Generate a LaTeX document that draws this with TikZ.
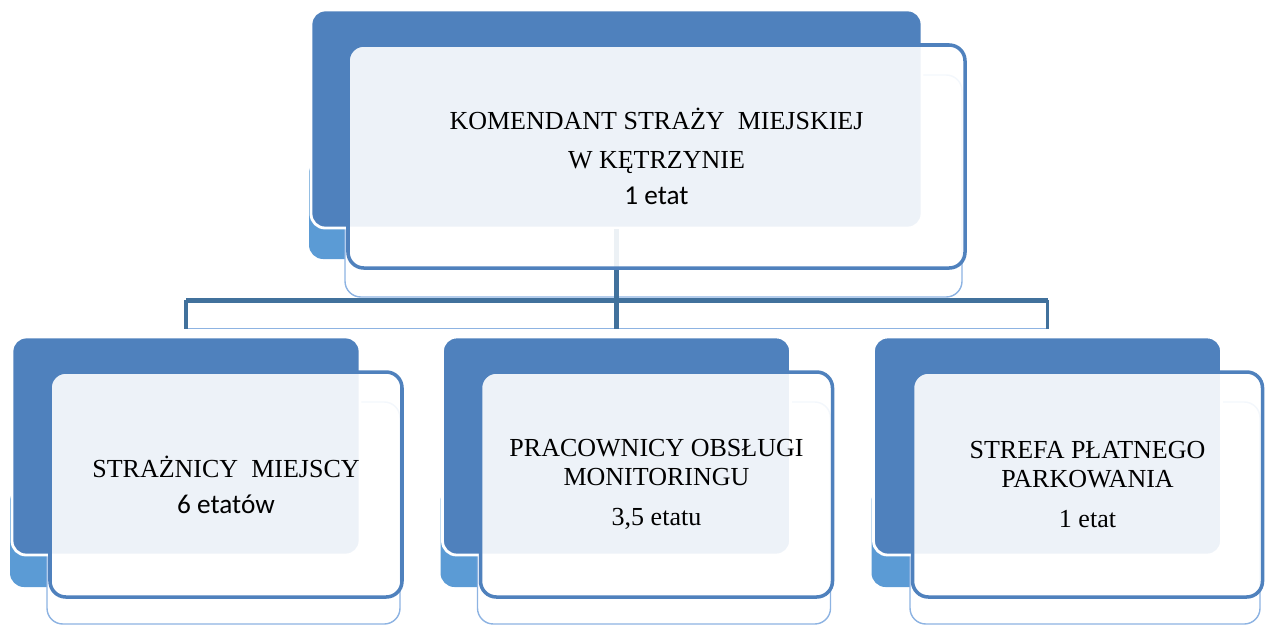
\documentclass[tikz,border=0pt]{standalone}
\usepackage{fontspec}
\setmainfont{Liberation Serif}
\newfontfamily\calibri{Carlito}
\usetikzlibrary{positioning,calc}
\definecolor{darkblue}{HTML}{4F81BD}
\definecolor{midblue}{HTML}{5B9BD5}
\definecolor{lineblue}{HTML}{41719C}
\definecolor{paleblue}{HTML}{8DB3E2}
\tikzset{
  % back layer: dark card with a white rim
  backbox/.style={rectangle, rounded corners=8pt, fill=darkblue,
  draw=white, line width=1.6pt, minimum height=4.36cm},
  % lighter card peeking out below the dark one
  stripbox/.style={rectangle, rounded corners=8pt, fill=midblue,
  minimum height=2cm},
  % faint outline under the front card
  ghostbox/.style={rectangle, rounded corners=9pt, fill=white,
  draw=paleblue, line width=0.8pt, minimum height=4.44cm},
  % front card holding the text
  frontbox/.style={rectangle, rounded corners=9pt, fill=white,
  fill opacity=0.9, text opacity=1, draw=darkblue, line width=2pt,
  minimum height=4.46cm, align=center,
  font=\fontsize{14.8}{16.5}\selectfont},
  trunk/.style={draw=lineblue, line width=2.4pt},
  leg/.style={draw=lineblue, line width=2pt},
  bar/.style={draw=lineblue, line width=2.6pt},
  sill/.style={draw=paleblue, line width=0.6pt}}

\begin{document}
\begin{tikzpicture}
\useasboundingbox (0,0) rectangle (25.32,-12.52);

%% top card
\coordinate (kom_pos) at (12.33,-2.38);
\node (kom_strip) [stripbox, minimum width=12.22cm] at ($(kom_pos)+(-0.04,-1.80)$) {};
\node (kom_ghost) [ghostbox, minimum width=12.34cm] at ($(kom_pos)+(0.74,-1.34)$) {};
\node (kom_back) [backbox, minimum width=12.22cm] at (kom_pos) {};

%% lower cards
\coordinate (straz_pos) at (3.72,-8.92);
\coordinate (monit_pos) at (12.33,-8.92);
\coordinate (strefa_pos) at (20.95,-8.92);

\node (straz_strip) [stripbox, minimum width=6.96cm] at ($(straz_pos)+(-0.04,-1.82)$) {};
\node (straz_ghost) [ghostbox, minimum width=7.06cm] at ($(straz_pos)+(0.75,-1.34)$) {};
\node (straz_back) [backbox, minimum width=6.96cm] at (straz_pos) {};

\node (monit_strip) [stripbox, minimum width=6.96cm] at ($(monit_pos)+(-0.04,-1.82)$) {};
\node (monit_ghost) [ghostbox, minimum width=7.06cm] at ($(monit_pos)+(0.75,-1.34)$) {};
\node (monit_back) [backbox, minimum width=6.96cm] at (monit_pos) {};

\node (strefa_strip) [stripbox, minimum width=6.96cm] at ($(strefa_pos)+(-0.04,-1.82)$) {};
\node (strefa_ghost) [ghostbox, minimum width=7.0cm] at ($(strefa_pos)+(0.75,-1.34)$) {};
\node (strefa_back) [backbox, minimum width=6.96cm] at (strefa_pos) {};

%% connectors
\coordinate (bar) at ($(kom_back.south)+(0,-1.42)$);
\coordinate (foot) at ($(straz_back.north)+(0,0.14)$);
\draw [sill] (straz_back.north |- foot) -- (strefa_back.north |- foot);
\draw [trunk] (kom_back.south) -- (kom_back.south |- foot);
\draw [leg] (straz_back.north |- bar) -- (straz_back.north |- foot);
\draw [leg] (strefa_back.north |- bar) -- (strefa_back.north |- foot);
\draw [bar] (straz_back.north |- bar) -- (strefa_back.north |- bar);

%% front cards
\node (kom) [frontbox, minimum width=12.34cm] at ($(kom_back.center)+(0.8,-0.75)$)
{KOMENDANT STRAŻY\ \ MIEJSKIEJ\\[6pt] W KĘTRZYNIE\\[4pt] {\calibri\fontsize{15.5}{16}\selectfont 1 etat}};

\node (straz) [frontbox, minimum width=7.04cm, minimum height=4.5cm] at ($(straz_back.center)+(0.8,-0.77)$)
{STRAŻNICY\ \ MIEJSCY\\[4pt] {\calibri\fontsize{15.5}{16}\selectfont 6 etatów}};

\node (monit) [frontbox, minimum width=7.04cm, minimum height=4.5cm] at ($(monit_back.center)+(0.8,-0.77)$)
{PRACOWNICY OBSŁUGI\\ MONITORINGU\\[6pt] 3,5 etatu};

\node (strefa) [frontbox, minimum width=7.0cm, minimum height=4.5cm] at ($(strefa_back.center)+(0.8,-0.77)$)
{STREFA PŁATNEGO\\ PARKOWANIA\\[6pt] 1 etat};

\end{tikzpicture}
\end{document}
